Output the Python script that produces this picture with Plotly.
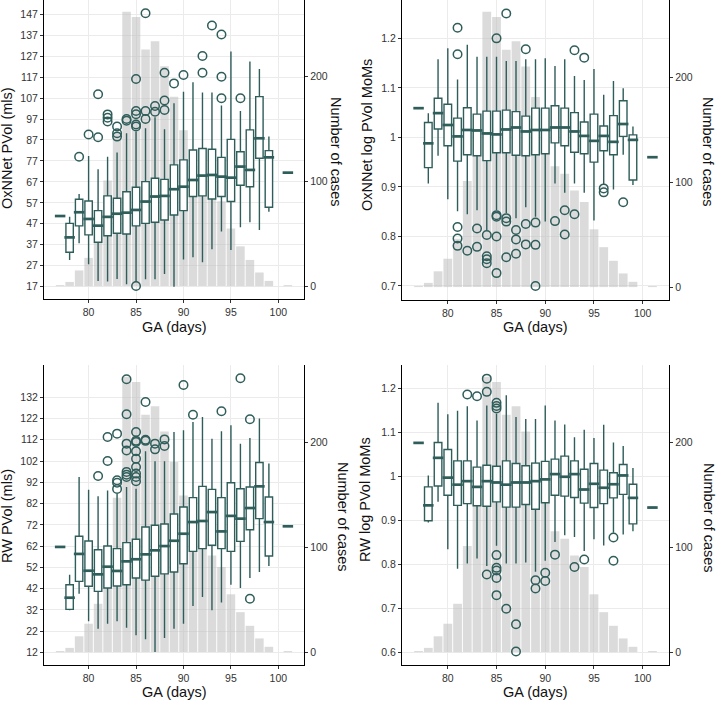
import plotly.graph_objects as go

# ---------------- data ----------------
hist_days = [77, 78, 79, 80, 81, 82, 83, 84, 85, 86, 87, 88, 89, 90, 91, 92, 93, 94, 95, 96, 97, 98, 99, 100, 101]
hist_counts = [1, 4, 15, 27, 46, 101, 147, 262, 257, 226, 234, 210, 181, 149, 115, 108, 92, 81, 55, 38, 25, 13, 5, 0, 1]

box_days = [77, 78, 79, 80, 81, 82, 83, 84, 85, 86, 87, 88, 89, 90, 91, 92, 93, 94, 95, 96, 97, 98, 99, 101]

# Panel A: OxNNet PVol (mls)
oxpv_low = [50.7, 29.7, 37.7, 27.7, 19.7, 19.4, 20.7, 18.1, 19.4, 20.5, 20.5, 23.0, 17.0, 30.0, 31.0, 28.6, 34.8, 43.3, 34.5, 45.3, 47.7, 44.0, 52.8, 71.4]
oxpv_q1 = [50.7, 33.4, 46.0, 41.7, 38.2, 41.3, 42.5, 42.1, 46.0, 47.2, 47.7, 48.8, 51.2, 53.3, 60.0, 60.3, 58.8, 60.0, 57.6, 65.4, 64.7, 78.3, 54.9, 71.4]
oxpv_med = [50.7, 40.5, 52.5, 49.3, 46.1, 50.3, 51.8, 52.3, 53.6, 57.6, 60.0, 60.3, 63.5, 64.7, 67.9, 70.0, 70.3, 69.5, 69.0, 74.3, 72.7, 87.8, 78.7, 71.4]
oxpv_q3 = [50.7, 47.2, 58.7, 57.9, 53.3, 60.3, 59.2, 62.3, 64.4, 67.1, 68.7, 68.2, 75.1, 77.5, 82.2, 82.9, 82.6, 78.7, 87.3, 81.4, 91.8, 107.7, 81.9, 71.4]
oxpv_high = [50.7, 50.4, 61.2, 79.4, 73.0, 79.0, 81.0, 90.2, 91.0, 92.6, 97.8, 92.1, 104.5, 110.0, 114.5, 109.6, 109.6, 103.4, 129.2, 100.8, 124.4, 120.9, 88.6, 71.4]
oxpv_out_day = [79, 80, 81, 81, 82, 82, 82, 83, 83, 83, 84, 84, 85, 85, 85, 85, 85, 85, 86, 86, 86, 87, 87, 88, 88, 88, 89, 90, 92, 92, 93, 94, 94, 94, 96]
oxpv_out_val = [79.0, 89.6, 88.3, 108.8, 95.8, 97.6, 99.2, 88.6, 90.2, 93.4, 96.2, 97.0, 17.3, 93.4, 94.4, 99.3, 100.8, 116.1, 97.0, 100.8, 147.5, 100.5, 103.2, 101.3, 105.8, 119.1, 114.0, 118.0, 119.1, 127.1, 141.6, 106.9, 117.2, 137.3, 106.9]

# Panel B: OxNNet log PVol MoMs
oxmom_low = [1.059, 0.907, 0.963, 0.875, 0.851, 0.845, 0.853, 0.813, 0.853, 0.847, 0.837, 0.859, 0.840, 0.830, 0.907, 0.888, 0.907, 0.888, 0.832, 0.905, 0.895, 0.965, 0.904, 0.960]
oxmom_q1 = [1.059, 0.939, 1.017, 0.983, 0.952, 0.965, 0.963, 0.953, 0.969, 0.969, 0.964, 0.963, 0.965, 0.967, 0.989, 0.983, 0.970, 0.967, 0.950, 0.973, 0.965, 1.002, 0.914, 0.960]
oxmom_med = [1.059, 0.988, 1.049, 1.025, 1.002, 1.015, 1.014, 1.008, 1.006, 1.016, 1.020, 1.012, 1.015, 1.015, 1.020, 1.020, 1.012, 1.003, 0.993, 1.003, 0.991, 1.027, 0.995, 0.960]
oxmom_q3 = [1.059, 1.030, 1.079, 1.067, 1.039, 1.060, 1.047, 1.053, 1.053, 1.055, 1.052, 1.043, 1.059, 1.059, 1.064, 1.059, 1.050, 1.031, 1.047, 1.023, 1.044, 1.074, 1.005, 0.960]
oxmom_high = [1.059, 1.049, 1.158, 1.180, 1.117, 1.187, 1.163, 1.163, 1.163, 1.154, 1.154, 1.158, 1.158, 1.160, 1.144, 1.158, 1.124, 1.116, 1.138, 1.086, 1.114, 1.099, 1.022, 0.960]
oxmom_out_day = [81, 81, 81, 81, 81, 82, 83, 83, 84, 84, 84, 84, 85, 85, 85, 85, 85, 86, 86, 86, 86, 87, 87, 87, 88, 88, 88, 89, 89, 89, 91, 92, 92, 93, 93, 94, 96, 96, 98]
oxmom_out_val = [1.2215, 1.168, 0.819, 0.796, 0.781, 0.771, 0.816, 0.779, 0.803, 0.760, 0.754, 0.746, 1.200, 0.843, 0.840, 0.800, 0.726, 1.250, 0.837, 0.830, 0.758, 0.813, 0.794, 0.765, 1.178, 0.825, 0.784, 0.828, 0.783, 0.700, 0.831, 0.853, 0.804, 1.176, 0.845, 1.161, 0.897, 0.889, 0.869]

# Panel C: RW PVol (mls)
rwpv_low = [61.6, 31.8, 39.6, 26.6, 23.1, 25.5, 26.6, 23.6, 20.0, 18.1, 12.2, 18.7, 23.1, 25.5, 33.8, 38.0, 31.8, 35.4, 43.8, 42.3, 47.0, 49.8, 52.6, 71.3]
rwpv_q1 = [61.6, 32.2, 45.4, 43.1, 40.7, 42.3, 43.2, 43.8, 47.0, 46.0, 47.8, 48.9, 49.8, 53.7, 59.5, 60.8, 62.4, 60.8, 59.5, 64.2, 69.7, 74.9, 57.3, 71.3]
rwpv_med = [61.6, 37.7, 58.3, 50.4, 48.7, 52.3, 50.3, 54.8, 55.8, 58.1, 60.0, 62.0, 64.5, 67.8, 73.3, 73.8, 78.0, 68.9, 76.2, 74.9, 79.9, 90.1, 73.3, 71.3]
rwpv_q3 = [61.6, 43.8, 66.6, 64.4, 60.3, 62.0, 60.8, 63.6, 65.2, 71.0, 71.8, 72.4, 77.1, 80.4, 84.8, 90.1, 88.7, 84.8, 91.8, 89.0, 89.8, 101.3, 85.1, 71.3]
rwpv_high = [61.6, 48.5, 94.5, 88.5, 85.4, 88.2, 86.5, 89.8, 89.0, 106.6, 101.9, 101.9, 115.7, 116.5, 120.4, 122.7, 112.5, 116.0, 118.8, 110.2, 112.9, 122.0, 100.8, 71.3]
rwpv_out_day = [81, 82, 82, 83, 83, 83, 83, 84, 84, 84, 84, 84, 84, 84, 85, 85, 85, 85, 85, 85, 85, 85, 85, 86, 86, 86, 87, 87, 88, 88, 90, 91, 94, 96, 97, 97]
rwpv_out_val = [95.0, 102.0, 113.3, 88.9, 91.8, 93.0, 114.9, 94.5, 95.6, 96.9, 107.0, 110.2, 124.0, 140.5, 92.5, 94.5, 96.1, 99.2, 103.1, 106.6, 111.0, 111.5, 115.7, 111.5, 112.0, 129.8, 107.5, 110.2, 109.1, 112.2, 137.8, 123.8, 125.4, 141.0, 121.7, 37.2]

# Panel D: RW log PVol MoMs
rwmom_low = [1.076, 0.895, 0.942, 0.834, 0.790, 0.802, 0.813, 0.796, 0.842, 0.802, 0.802, 0.804, 0.783, 0.808, 0.851, 0.866, 0.862, 0.830, 0.857, 0.843, 0.872, 0.868, 0.875, 0.929]
rwmom_q1 = [1.076, 0.899, 0.978, 0.957, 0.934, 0.938, 0.933, 0.932, 0.942, 0.930, 0.930, 0.936, 0.925, 0.940, 0.957, 0.955, 0.952, 0.939, 0.929, 0.938, 0.951, 0.959, 0.892, 0.929]
rwmom_med = [1.076, 0.934, 1.042, 0.997, 0.981, 0.989, 0.976, 0.989, 0.986, 0.981, 0.986, 0.986, 0.989, 0.993, 1.005, 0.999, 1.005, 0.970, 0.983, 0.974, 0.982, 1.002, 0.951, 0.929]
rwmom_q3 = [1.076, 0.976, 1.077, 1.061, 1.035, 1.035, 1.021, 1.025, 1.023, 1.035, 1.029, 1.024, 1.030, 1.034, 1.039, 1.046, 1.035, 1.016, 1.029, 1.014, 1.008, 1.027, 0.982, 0.929]
rwmom_high = [1.076, 1.002, 1.167, 1.141, 1.149, 1.159, 1.127, 1.161, 1.142, 1.184, 1.135, 1.130, 1.130, 1.161, 1.127, 1.118, 1.089, 1.106, 1.087, 1.117, 1.077, 1.069, 1.019, 0.929]
rwmom_out_day = [82, 83, 84, 84, 84, 85, 85, 85, 85, 85, 85, 85, 85, 86, 87, 87, 89, 89, 90, 90, 91, 93, 94, 97, 97]
rwmom_out_val = [1.186, 1.182, 1.222, 1.192, 0.777, 1.167, 1.160, 1.154, 0.821, 0.792, 0.786, 0.769, 0.730, 0.699, 0.664, 0.602, 0.764, 0.745, 0.781, 0.762, 0.822, 0.794, 0.811, 0.861, 0.808]

x_ticks = [80, 85, 90, 95, 100]

# ---------------- style ----------------
TEAL = "#2E5D5A"
BAR = "rgba(190,190,190,0.55)"
GRID = "#EBEBEB"
FONT = "Liberation Sans, Arial, sans-serif"
W, H = 716, 717

panels = [
    dict(title="OxNNet PVol (mls)", low=oxpv_low, q1=oxpv_q1, med=oxpv_med, q3=oxpv_q3, high=oxpv_high,
         od=oxpv_out_day, ov=oxpv_out_val, yrange=[11.1, 153.8],
         yticks=[17, 27, 37, 47, 57, 67, 77, 87, 97, 107, 117, 127, 137, 147], ytext=None,
         px=(44, 304), py=(0, 299), ltitle=(7, 148), rtitle=(336, 152), xtitle=(174, 327)),
    dict(title="OxNNet log PVol MoMs", low=oxmom_low, q1=oxmom_q1, med=oxmom_med, q3=oxmom_q3, high=oxmom_high,
         od=oxmom_out_day, ov=oxmom_out_val, yrange=[0.6717, 1.2774],
         yticks=[0.7, 0.8, 0.9, 1.0, 1.1, 1.2], ytext=["0.7", "0.8", "0.9", "1", "1.1", "1.2"],
         px=(402, 669), py=(0, 300), ltitle=(367, 135), rtitle=(708, 152), xtitle=(535, 327)),
    dict(title="RW PVol (mls)", low=rwpv_low, q1=rwpv_q1, med=rwpv_med, q3=rwpv_q3, high=rwpv_high,
         od=rwpv_out_day, ov=rwpv_out_val, yrange=[6.04, 147.2],
         yticks=[12, 22, 32, 42, 52, 62, 72, 82, 92, 102, 112, 122, 132], ytext=None,
         px=(44, 304), py=(365, 665), ltitle=(7, 516), rtitle=(343, 517), xtitle=(174, 692)),
    dict(title="RW log PVol MoMs", low=rwmom_low, q1=rwmom_q1, med=rwmom_med, q3=rwmom_q3, high=rwmom_high,
         od=rwmom_out_day, ov=rwmom_out_val, yrange=[0.5712, 1.253],
         yticks=[0.6, 0.7, 0.8, 0.9, 1.0, 1.1, 1.2], ytext=["0.6", "0.7", "0.8", "0.9", "1", "1.1", "1.2"],
         px=(402, 669), py=(365, 665), ltitle=(365, 500), rtitle=(709, 518), xtitle=(535, 692)),
]

fig = go.Figure()
layout = dict(width=W, height=H, margin=dict(l=0, r=0, t=0, b=0), paper_bgcolor="white",
              plot_bgcolor="white", showlegend=False, template="none", boxmode="overlay",
              font=dict(family=FONT, size=10, color="#222"))
annotations = []

tickfont = dict(family=FONT, size=10.5, color="#333")
for i, p in enumerate(panels):
    xn = i + 1
    yc = 2 * i + 1   # counts axis (base, right)
    yv = 2 * i + 2   # value axis (overlay, left)
    xid = "x" if xn == 1 else f"x{xn}"
    ycid = "y" if yc == 1 else f"y{yc}"
    yvid = f"y{yv}"
    xdom = [p["px"][0] / W, p["px"][1] / W]
    ydom = [1 - p["py"][1] / H, 1 - p["py"][0] / H]

    layout["xaxis" if xn == 1 else f"xaxis{xn}"] = dict(
        domain=xdom, range=[75.3, 102.7], anchor=ycid, tickvals=x_ticks,
        showline=True, linecolor="black", linewidth=1.1, ticks="outside", ticklen=3,
        tickcolor="#333", tickwidth=1, showgrid=True, gridcolor=GRID, gridwidth=1,
        zeroline=False, tickfont=tickfont, automargin=False)
    layout["yaxis" if yc == 1 else f"yaxis{yc}"] = dict(
        domain=ydom, range=[-12.3, 273.3], anchor=xid, side="right", tickvals=[0, 100, 200],
        showline=True, linecolor="black", linewidth=1.1, ticks="outside", ticklen=3,
        tickcolor="#333", showgrid=False, zeroline=False, tickfont=tickfont, automargin=False)
    yv_ax = dict(
        domain=ydom, range=p["yrange"], anchor=xid, overlaying=ycid, side="left",
        tickvals=p["yticks"], showline=True, linecolor="black", linewidth=1.1,
        ticks="outside", ticklen=3, tickcolor="#333", showgrid=True, gridcolor=GRID,
        gridwidth=1, zeroline=False, tickfont=tickfont, automargin=False)
    if p["ytext"] is not None:
        yv_ax["ticktext"] = p["ytext"]
    layout[f"yaxis{yv}"] = yv_ax

    # histogram of cases
    fig.add_trace(go.Bar(x=hist_days, y=hist_counts, width=0.9, marker=dict(color=BAR, line=dict(width=0)),
                         xaxis=xid, yaxis=ycid, hoverinfo="skip"))
    # boxes
    fig.add_trace(go.Box(x=box_days, q1=p["q1"], median=p["med"], q3=p["q3"],
                         lowerfence=p["low"], upperfence=p["high"], boxpoints=False,
                         width=0.78, whiskerwidth=0, fillcolor="white",
                         line=dict(color=TEAL, width=1.4), xaxis=xid, yaxis=yvid))
    # emphasised medians
    fig.add_trace(go.Scatter(x=box_days, y=p["med"], mode="markers",
                             marker=dict(symbol="line-ew", size=7.5, color=TEAL,
                                         line=dict(color=TEAL, width=2.7)),
                             xaxis=xid, yaxis=yvid, hoverinfo="skip"))
    # outliers
    fig.add_trace(go.Scatter(x=p["od"], y=p["ov"], mode="markers",
                             marker=dict(symbol="circle-open", size=8.5, color=TEAL,
                                         line=dict(color=TEAL, width=1.5)),
                             xaxis=xid, yaxis=yvid))

    tf = dict(family=FONT, size=14.5, color="#111")
    annotations.append(dict(text=p["title"], xref="paper", yref="paper",
                            x=p["ltitle"][0] / W, y=1 - p["ltitle"][1] / H, textangle=-90,
                            showarrow=False, xanchor="center", yanchor="middle", font=tf))
    annotations.append(dict(text="Number of cases", xref="paper", yref="paper",
                            x=p["rtitle"][0] / W, y=1 - p["rtitle"][1] / H, textangle=90,
                            showarrow=False, xanchor="center", yanchor="middle", font=tf))
    annotations.append(dict(text="GA (days)", xref="paper", yref="paper",
                            x=p["xtitle"][0] / W, y=1 - p["xtitle"][1] / H,
                            showarrow=False, xanchor="center", yanchor="middle", font=tf))

layout["annotations"] = annotations
fig.update_layout(**layout)
fig.write_html("out.html", config={"displayModeBar": False},
               post_script="document.body.style.margin='0px';document.body.style.padding='0px';"
                           "document.body.style.overflow='hidden';")
